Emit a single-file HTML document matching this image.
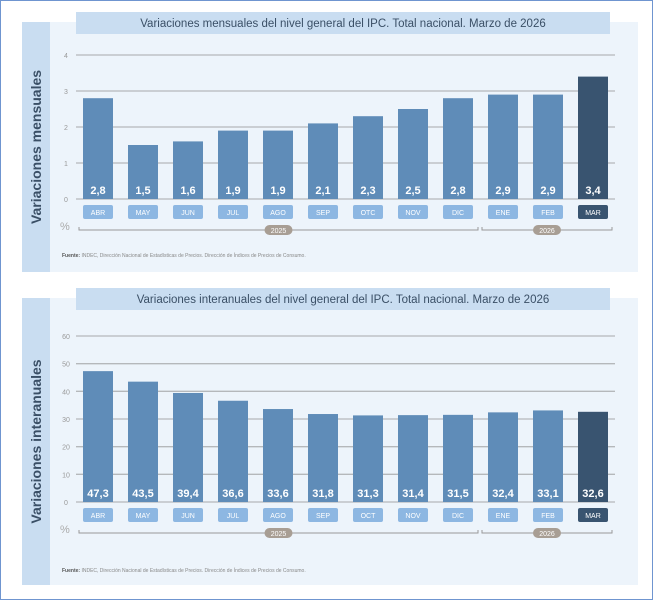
<!DOCTYPE html>
<html><head><meta charset="utf-8"><style>
body{margin:0;background:#fff;font-family:"Liberation Sans",sans-serif}
#frame{position:absolute;left:0;top:0;width:651px;height:598px;border:1px solid #6f95d0}
svg{position:absolute;left:0;top:0}
</style></head><body>
<div id="frame"></div>
<svg id="s" width="653" height="600"></svg>
<script>
const months=["ABR","MAY","JUN","JUL","AGO","SEP","OTC","NOV","DIC","ENE","FEB","MAR"];
const months2=["ABR","MAY","JUN","JUL","AGO","SEP","OCT","NOV","DIC","ENE","FEB","MAR"];
const mensual=[2.8,1.5,1.6,1.9,1.9,2.1,2.3,2.5,2.8,2.9,2.9,3.4];
const mensualLabels=["2,8","1,5","1,6","1,9","1,9","2,1","2,3","2,5","2,8","2,9","2,9","3,4"];
const interanual=[47.3,43.5,39.4,36.6,33.6,31.8,31.3,31.4,31.5,32.4,33.1,32.6];
const interanualLabels=["47,3","43,5","39,4","36,6","33,6","31,8","31,3","31,4","31,5","32,4","33,1","32,6"];
const ticks1=[0,1,2,3,4];
const ticks2=[0,10,20,30,40,50,60];
const years=["2025","2026"];

const NS="http://www.w3.org/2000/svg", svg=document.getElementById('s');
function el(t,a,p,txt){const e=document.createElementNS(NS,t);for(const k in a)e.setAttribute(k,a[k]);if(txt!==undefined)e.textContent=txt;(p||svg).appendChild(e);return e;}

function panel(cfg){
  const g=el('g',{});
  
  
  const bg=el('rect',{x:22,y:cfg.top,width:616,height:cfg.bottom-cfg.top,fill:'#edf4fb'},g);
  
  const st=el('rect',{x:22,y:cfg.top,width:28,height:cfg.bottom-cfg.top,fill:'#c9ddf1'},g);
  
  const cy=(cfg.top+cfg.bottom)/2;
  const yt=el('text',{x:41,y:cy,'font-size':14,'font-weight':'bold',fill:'#3a4f66','text-anchor':'middle',transform:`rotate(-90 41 ${cy})`},g,cfg.ytitle);
  
  const tb=el('rect',{x:76,y:cfg.top-10,width:534,height:22,fill:'#c9ddf1'},g);
  
  const tt=el('text',{x:343,y:cfg.top+5,'font-size':11.5,fill:'#3a4f66','text-anchor':'middle'},g,cfg.title);
  
  const max=cfg.ticks[cfg.ticks.length-1];
  const y=v=>cfg.y0-(cfg.y0-cfg.yTop)*v/max;
  const x=i=>83+i*45;
  cfg.ticks.forEach(t=>{
    const l=el('line',{x1:76,x2:615,y1:y(t),y2:y(t),stroke:'#b5b8bb','stroke-width':1.3},g);
    
    const tl=el('text',{x:66,y:y(t)+3,'font-size':7,fill:'#999','text-anchor':'middle'},g,String(t));
    
  });
  cfg.vals.forEach((v,i)=>{
    const last=i===cfg.vals.length-1;
    const b=el('rect',{x:x(i),y:y(v),width:30,height:cfg.y0-y(v),fill:last?'#395470':'#5f8cb8'},g);
    
    const vl=el('text',{x:x(i)+15,y:cfg.y0-5,'font-size':11,'font-weight':'bold',fill:'#fff','text-anchor':'middle'},g,cfg.labels[i]);
    
    const mb=el('rect',{x:x(i),y:cfg.y0+6,width:30,height:14,rx:2,fill:last?'#395470':'#8db7e2'},g);
    
    const ml=el('text',{x:x(i)+15,y:cfg.y0+16,'font-size':7,fill:'#fff','text-anchor':'middle'},g,cfg.months[i]);
    
  });
  const by=cfg.y0+31;
  const pc=el('text',{x:60,y:by,'font-size':11,fill:'#aaa'},g,'%');
  
  [[79,478,years[0]],[482,612,years[1]]].forEach(([a,b2,lab])=>{
    const p=el('path',{d:`M${a} ${by-3}V${by}H${b2}V${by-3}`,stroke:'#999',fill:'none','stroke-width':1},g);
    
    const c=(a+b2)/2;
    const pr=el('rect',{x:c-14,y:by-5,width:28,height:10,rx:5,fill:'#a89e94'},g);
    
    const yl=el('text',{x:c,y:by+3,'font-size':7,fill:'#fff','text-anchor':'middle'},g,lab);
    
  });
  const f=el('text',{x:62,y:cfg.y0+(cfg.name==='monthly-chart'?58:70),'font-size':5,fill:'#888'},g);
  
  el('tspan',{'font-weight':'bold',fill:'#555'},f,'Fuente: ');
  el('tspan',{},f,'INDEC, Dirección Nacional de Estadísticas de Precios. Dirección de Índices de Precios de Consumo.');
}
panel({name:'monthly-chart',top:22,bottom:272,y0:199,yTop:55,ticks:ticks1,vals:mensual,labels:mensualLabels,months:months,
  title:'Variaciones mensuales del nivel general del IPC. Total nacional. Marzo de 2026',ytitle:'Variaciones mensuales'});
panel({name:'interannual-chart',top:298,bottom:585,y0:502,yTop:336,ticks:ticks2,vals:interanual,labels:interanualLabels,months:months2,
  title:'Variaciones interanuales del nivel general del IPC. Total nacional. Marzo de 2026',ytitle:'Variaciones interanuales'});
</script>
</body></html>
